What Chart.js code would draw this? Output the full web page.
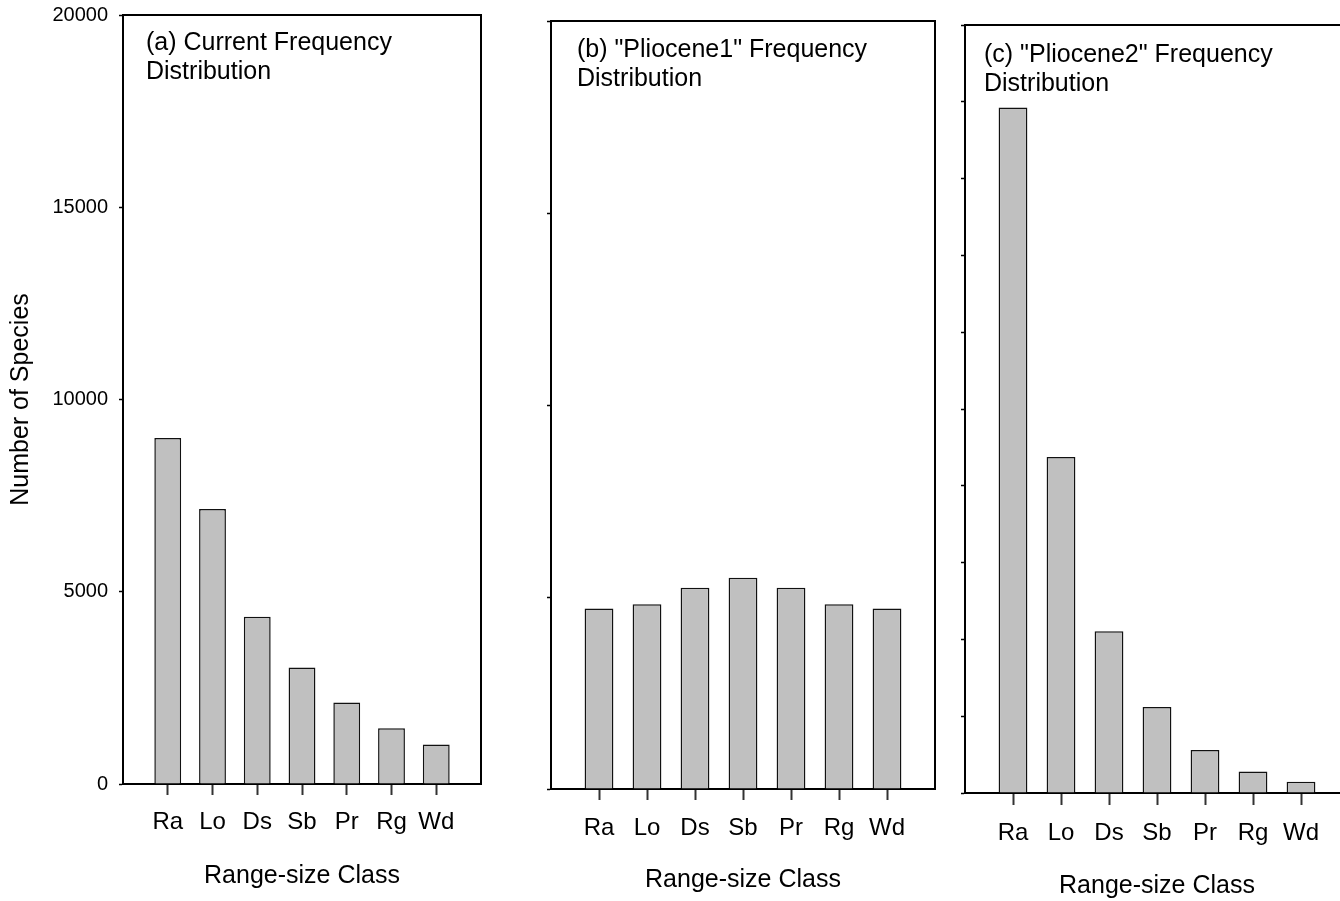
<!DOCTYPE html>
<html>
<head>
<meta charset="utf-8">
<title>Range-size frequency distributions</title>
<script src="https://cdn.jsdelivr.net/npm/chart.js@4.4.1/dist/chart.umd.min.js"></script>
<style>
  html, body { margin: 0; padding: 0; background: #fff; overflow: hidden; }
  body { width: 1340px; height: 901px; position: relative; }
  canvas { position: absolute; top: 0; }
</style>
</head>
<body>
<canvas id="chartA" width="540" height="901" style="left:0px"></canvas>
<canvas id="chartB" width="410" height="901" style="left:540px"></canvas>
<canvas id="chartC" width="410" height="901" style="left:950px"></canvas>
<script>
const categories = ["Ra", "Lo", "Ds", "Sb", "Pr", "Rg", "Wd"];

// number of species per range-size class
const currentCounts = [9000, 7150, 4350, 3030, 2120, 1450, 1030];
const pliocene1Counts = [4700, 4810, 5240, 5500, 5240, 4810, 4700];
const pliocene2Counts = [17850, 8750, 4210, 2240, 1120, 560, 290];

const yTicksWide = [0, 5000, 10000, 15000, 20000];
const yTicksFine = [0, 2000, 4000, 6000, 8000, 10000, 12000, 14000, 16000, 18000, 20000];

const fontFamily = "Arial, 'Liberation Sans', sans-serif";
Chart.defaults.font.family = fontFamily;
Chart.defaults.color = "#000";

function makePanel(id, values, cfg) {
  // box round the plot + the panel caption in the top left corner
  const panelFrame = {
    id: "panelFrame",
    afterDraw(chart) {
      const { ctx, chartArea } = chart;
      ctx.save();
      ctx.strokeStyle = "#000";
      ctx.lineWidth = 2;
      ctx.beginPath();
      ctx.moveTo(chartArea.left, chartArea.top);
      ctx.lineTo(chartArea.right, chartArea.top);
      ctx.lineTo(chartArea.right, chartArea.bottom);
      ctx.stroke();
      ctx.fillStyle = "#000";
      ctx.font = "25px " + fontFamily;
      ctx.textBaseline = "alphabetic";
      cfg.label.forEach((line, i) => {
        ctx.fillText(line, chartArea.left + cfg.dx, chartArea.top + cfg.dy + i * 29);
      });
      ctx.restore();
    },
  };

  return new Chart(document.getElementById(id), {
    type: "bar",
    data: {
      datasets: [
        {
          data: values.map((v, i) => ({ x: i + 1, y: v })),
          backgroundColor: "#c0c0c0",
          borderColor: "#111",
          borderWidth: 1.5,
          barPercentage: 0.6,
          categoryPercentage: 1,
        },
      ],
    },
    options: {
      responsive: false,
      animation: false,
      devicePixelRatio: 1,
      layout: { padding: { top: cfg.top, right: cfg.right, left: 0, bottom: 0 } },
      plugins: { legend: { display: false }, tooltip: { enabled: false } },
      scales: {
        x: {
          type: "linear",
          min: 0,
          max: categories.length + 1,
          offset: false,
          afterBuildTicks: (axis) => {
            axis.ticks = categories.map((c, i) => ({ value: i + 1 }));
          },
          afterFit: (axis) => {
            axis.height = cfg.xHeight;
          },
          ticks: {
            autoSkip: false,
            maxRotation: 0,
            padding: cfg.xPad,
            color: "#000",
            font: { size: 24 },
            callback: (v) => categories[v - 1],
          },
          grid: {
            drawOnChartArea: false,
            offset: false,
            tickLength: cfg.tickLen,
            tickColor: "#333",
            tickWidth: 2,
          },
          border: { color: "#000", width: 2 },
          title: {
            display: true,
            text: "Range-size Class",
            color: "#000",
            font: { size: 25 },
            padding: { top: 0, bottom: cfg.titlePad },
          },
        },
        y: {
          min: 0,
          max: 20000,
          afterBuildTicks: (axis) => {
            axis.ticks = cfg.yTicks.map((v) => ({ value: v }));
          },
          afterFit: (axis) => {
            axis.width = cfg.yWidth;
            // the top label may poke above the box, the layout padding handles it
            axis.paddingTop = 0;
            axis.paddingBottom = 0;
          },
          ticks: {
            display: cfg.showYLabels,
            padding: 11,
            color: "#000",
            font: { size: 20 },
            callback: (v) => String(v),
          },
          grid: {
            drawOnChartArea: false,
            tickLength: 4,
            tickColor: "#000",
            tickWidth: 1.5,
          },
          border: { color: "#000", width: 2 },
          title: {
            display: cfg.showYLabels,
            text: "Number of Species",
            color: "#000",
            font: { size: 25 },
            padding: { top: 6 },
          },
        },
      },
    },
    plugins: [panelFrame],
  });
}

makePanel("chartA", currentCounts, {
  yTicks: yTicksWide, showYLabels: true, yWidth: 123,
  top: 15, right: 59, xHeight: 117, tickLen: 11, xPad: 13, titlePad: 10,
  label: ["(a) Current Frequency", "Distribution"], dx: 23, dy: 35,
});

makePanel("chartB", pliocene1Counts, {
  yTicks: yTicksWide, showYLabels: false, yWidth: 11,
  top: 21, right: 15, xHeight: 112, tickLen: 11, xPad: 14, titlePad: 6,
  label: ["(b) \"Pliocene1\" Frequency", "Distribution"], dx: 26, dy: 36,
});

makePanel("chartC", pliocene2Counts, {
  yTicks: yTicksFine, showYLabels: false, yWidth: 15,
  top: 25, right: 11, xHeight: 108, tickLen: 12, xPad: 14, titlePad: 0,
  label: ["(c) \"Pliocene2\" Frequency", "Distribution"], dx: 19, dy: 37,
});
</script>
</body>
</html>
